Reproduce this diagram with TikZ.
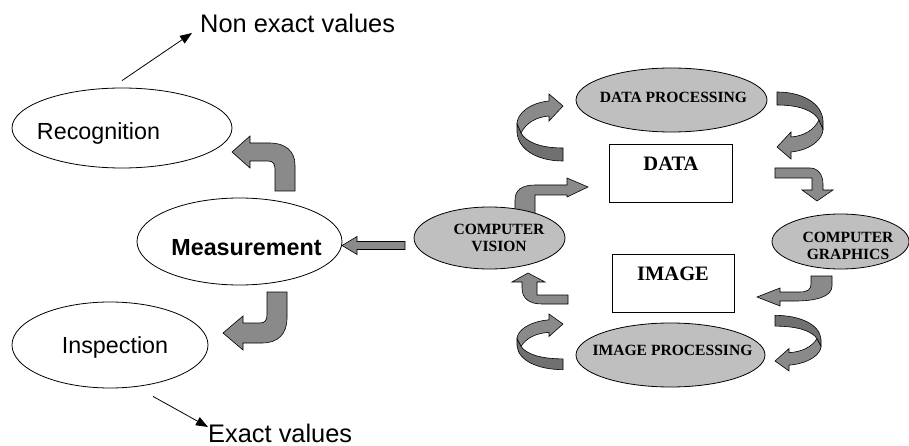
\documentclass[tikz,border=0pt]{standalone}
\usepackage{fontspec}
\setmainfont{Liberation Serif}
\newfontfamily\arialfont{Liberation Sans}
\usetikzlibrary{shapes.geometric,arrows.meta}

% twisted ribbon arrow, tip at the local origin
\newcommand{\curlarrow}[1]{%
  \begin{scope}[#1]
    \filldraw[blockarrow] (-14,-5) .. controls (-34,-3) and (-46,8) .. (-46,18) -- (-42,27)
       .. controls (-37,17) and (-27,11) .. (-14,10) -- (-14,15) -- (0,0) -- (-14,-12) -- cycle;
    \filldraw[blockarrow,fill=black!56] (-46,18) -- (-46,26) .. controls (-45,44) and (-25,55) .. (0,55)
       -- (0,42) .. controls (-23,42) and (-37,36) .. (-42,27) -- cycle;
  \end{scope}}

\begin{document}
\begin{tikzpicture}[x=1pt,y=-1pt,
   plainell/.style={ellipse,draw,fill=white,line width=0.8pt,inner sep=0pt},
   grayell/.style={ellipse,draw,fill=black!25,line width=0.8pt,inner sep=0pt},
   databox/.style={rectangle,draw,fill=white,line width=0.8pt,inner sep=0pt},
   blockarrow/.style={fill=black!46,draw=black,line width=0.6pt,line join=miter},
   sanstext/.style={inner sep=0pt,font=\arialfont\fontsize{23.3}{28}\selectfont},
   valtext/.style={inner sep=0pt,font=\arialfont\fontsize{25.4}{30}\selectfont},
   captext/.style={inner sep=0pt,align=center,font=\bfseries\fontsize{15.6}{17.5}\selectfont},
   boxtext/.style={inner sep=0pt,font=\bfseries\fontsize{20.5}{24}\selectfont}]
   \useasboundingbox (0,0) rectangle (909,446);
   \fill[white] (0,0) rectangle (909,446);

   % bent arrows on the left
   \filldraw[blockarrow] (275,191) -- (295,191) -- (295,165) .. controls (295,151) and (285,143) .. (270,143)
      -- (250,143) -- (250,136) -- (232,152) -- (250,168) -- (250,161) -- (268,161)
      .. controls (273,161) and (275,164) .. (275,169) -- cycle;
   \filldraw[blockarrow] (267,292) -- (287,292) -- (287,318) .. controls (287,334) and (278,343) .. (262,343)
      -- (243,343) -- (243,350) -- (223,333) -- (243,316) -- (243,323) -- (260,323)
      .. controls (265,323) and (267,320) .. (267,315) -- cycle;
   \filldraw[blockarrow] (405,241.5) -- (357,241.5) -- (357,236.5) -- (342,245.5) -- (357,254.5)
      -- (357,249.5) -- (405,249.5) -- cycle;

   % bent arrows round the two boxes
   \filldraw[blockarrow] (515,214) -- (515,200) .. controls (515,190) and (522,185) .. (535,185) -- (567,185)
      -- (567,178) -- (588,187) -- (567,197) -- (567,195) -- (535,195) -- (535,214) -- cycle;
   \filldraw[blockarrow] (775,168) -- (810,168) .. controls (818,168) and (823,175) .. (823,184) -- (823,190)
      -- (833,190) -- (817,201) -- (802,190) -- (812,190) -- (812,178) -- (775,178) -- cycle;
   \filldraw[blockarrow] (811,276) -- (832,276) -- (832,286) .. controls (832,297) and (815,301) .. (795,301)
      -- (780,301) -- (780,306) -- (757,297) -- (780,288) -- (780,292) -- (800,292)
      .. controls (808,292) and (811,289) .. (811,284) -- cycle;
   \filldraw[blockarrow] (568,295) -- (537,295) -- (537,282) -- (545,282) -- (528,273) -- (512,282)
      -- (522,282) -- (522,288) .. controls (522,299) and (530,304) .. (542,304) -- (568,304) -- cycle;

   % ribbon arrows beside the processing ellipses
   \curlarrow{shift={(563,106)}}
   \curlarrow{shift={(777,147)},rotate=180}
   \curlarrow{shift={(563,324)},yscale=0.83}
   \curlarrow{shift={(775,361)},rotate=180,yscale=0.83}

   % left ellipses
   \node[plainell,minimum width=220,minimum height=80] (recog) at (122,128) {};
   \node[sanstext,anchor=base] (recogtxt) at (98.5,140) {Recognition};
   \node[plainell,minimum width=205,minimum height=87] (meas) at (239.5,241.5) {};
   \node[sanstext,anchor=base,font=\arialfont\bfseries\fontsize{23.3}{28}\selectfont] (meastxt) at (246.5,255) {Measurement};
   \node[plainell,minimum width=196,minimum height=86] (insp) at (110,345) {};
   \node[sanstext,anchor=base] (insptxt) at (115,353) {Inspection};

   % right ellipses and boxes
   \node[grayell,minimum width=151,minimum height=62] (cv) at (489.5,238) {};
   \node[captext] (cvtxt) at (499,238) {COMPUTER\\VISION};
   \node[grayell,minimum width=191,minimum height=64] (dp) at (671.5,100) {};
   \node[captext,anchor=base] (dptxt) at (673.5,103) {DATA PROCESSING};
   \node[grayell,minimum width=137,minimum height=55] (cg) at (840.5,241.5) {};
   \node[captext] (cgtxt) at (848,246) {COMPUTER\\GRAPHICS};
   \node[grayell,minimum width=189,minimum height=64] (ip) at (670.5,355) {};
   \node[captext,anchor=base] (iptxt) at (672.5,355) {IMAGE PROCESSING};
   \node[databox,minimum width=123,minimum height=58] (data) at (670.5,173) {};
   \node[boxtext,anchor=base] (datatxt) at (671,171) {DATA};
   \node[databox,minimum width=122,minimum height=58] (image) at (673,283) {};
   \node[boxtext,anchor=base] (imagetxt) at (673,280) {IMAGE};

   % value labels
   \node[valtext,anchor=base west] (nonexact) at (200,33) {Non exact values};
   \node[valtext,anchor=base west] (exact) at (208,442) {Exact values};
   \draw[line width=0.8pt,-{Triangle[length=12pt,width=9pt]}] ([yshift=7pt]recog.north) -- ([xshift=-8pt]nonexact.base west);
   \draw[line width=0.8pt,-{Triangle[length=12pt,width=9pt]}] ([xshift=43pt,yshift=-8pt]insp.south) -- ([yshift=15pt]exact.base west);
\end{tikzpicture}
\end{document}
